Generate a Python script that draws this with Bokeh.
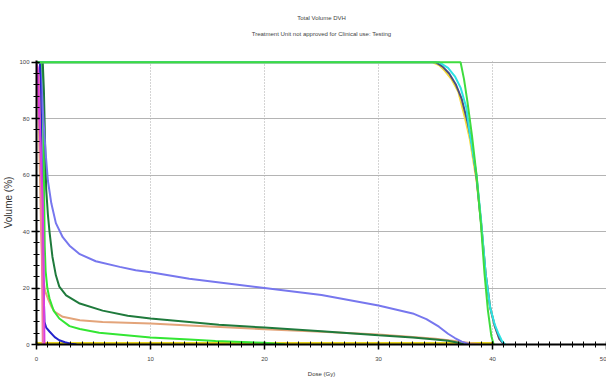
from bokeh.plotting import figure
from bokeh.models import Range1d, Title, FixedTicker
from bokeh.embed import file_html
from bokeh.resources import INLINE

# ---- data ----
title_main = "Total Volume DVH"
title_sub = "Treatment Unit not approved for Clinical use: Testing"
x_label = "Dose (Gy)"
y_label = "Volume (%)"
x_ticks = [0, 10, 20, 30, 40, 50]
x_minor = list(range(0, 51))
y_ticks = [0, 20, 40, 60, 80, 100]
y_minor = list(range(0, 101, 4))

# high-dose structures
cyan_x = [0, 35.3, 36.1, 36.7, 37.2, 37.7, 38.0, 38.6, 39.0, 39.4, 39.8, 40.2, 40.5, 40.8, 41.1]
cyan_y = [100, 100, 98, 95, 91, 84, 75, 60, 44, 25, 13, 7, 4, 1.5, 0]
yellow_x = [0, 34.7, 35.3, 35.8, 36.4, 37.0, 37.6, 38.0, 38.6, 39.0, 39.4, 39.8, 40.2, 40.6, 41.0]
yellow_y = [100, 100, 99, 97, 94, 89.5, 80, 73, 58, 43, 25, 13, 6.5, 2, 0]
slate_x = [0, 35.0, 35.6, 36.2, 36.8, 37.3, 37.8, 38.2, 38.6, 39.0, 39.4, 39.8, 40.2, 40.6, 41.0]
slate_y = [100, 100, 98.5, 96, 92, 87, 79, 71, 59, 43, 25, 13, 6.5, 2, 0]
green_hi_x = [0, 37.2, 37.5, 37.8, 38.2, 38.6, 39.0, 39.3, 39.6, 39.9, 40.1]
green_hi_y = [100, 100, 94, 86, 74, 60, 42, 25, 12, 3, 0]

# low-dose structures
violet_x = [0, 0.3, 0.45, 0.6, 0.8, 1.0, 1.3, 1.7, 2.3, 2.9, 3.8, 5.2, 7.3, 8.7, 10, 13.4,
            20, 25, 30, 33, 34.2, 35.3, 36.1, 36.7, 37.3, 38.0]
violet_y = [100, 100, 92, 80, 68, 58, 50, 43, 38, 35, 32, 29.5, 27.5, 26.3, 25.6, 23.3,
            20, 17.5, 13.8, 11, 9, 6.3, 3.8, 2.3, 1, 0]
dkgreen_x = [0, 0.55, 0.65, 0.75, 0.85, 1.0, 1.14, 1.4, 1.7, 2.0, 2.6, 3.8, 5.8, 8, 10, 13.4,
             16, 20, 25, 30, 33, 35, 36.1, 37, 37.5]
dkgreen_y = [100, 100, 90, 72, 55, 46, 40, 31, 24.5, 20.5, 17.4, 14.5, 12, 10.2, 9.2, 8,
             7, 6, 4.7, 3.3, 2.5, 1.8, 1.3, 0.6, 0]
orange_x = [0, 0.1, 0.2, 0.3, 0.4, 0.55, 0.75, 1.0, 1.3, 1.6, 2.3, 3.8, 5.8, 10, 13.4, 20,
            25, 30, 33, 35, 36.5, 38, 39]
orange_y = [100, 95, 80, 60, 40, 24.5, 19, 16.3, 13.5, 11.6, 9.8, 8.6, 8, 7.4, 6.7, 5.4,
            4.5, 3.5, 2.7, 2, 1.3, 0.5, 0]
ltgreen_x = [0, 0.45, 0.55, 0.62, 0.68, 0.72, 0.8, 0.95, 1.14, 1.5, 2.0, 2.9, 3.8, 5.5, 10,
             13.4, 15.7, 20, 21.8]
ltgreen_y = [100, 100, 90, 70, 50, 35, 26, 20, 16.3, 12, 9.2, 6.5, 5.5, 4.2, 2.5, 1.8,
             1.2, 0.6, 0]
blue_x = [0, 0.3, 0.4, 0.5, 0.6, 0.7, 0.85, 1.14, 1.6, 2.0, 2.5, 3.0, 3.5]
blue_y = [100, 100, 80, 50, 23, 8, 6, 4.6, 2.6, 1.5, 0.8, 0.3, 0]
magenta_x = [0, 0.1, 0.26, 0.45, 0.55, 0.62, 0.67, 0.7]
magenta_y = [100, 98, 79, 60, 50, 30, 10, 0]
pink_x = [0, 0.2, 0.35, 0.45, 0.5, 0.55]
pink_y = [100, 95, 70, 40, 20, 0]
base_x = [0, 40]
base_y = [0.5, 0.5]

p = figure(frame_width=570, frame_height=284, output_backend="svg", toolbar_location=None,
           x_range=Range1d(0, 50), y_range=Range1d(0, 100.6),
           min_border_left=29, min_border_right=0, min_border_top=60, min_border_bottom=30,
           background_fill_color="white", border_fill_color="white")
p.outline_line_color = None

# grids
p.xgrid.grid_line_color = "#a8a8a8"
p.xgrid.grid_line_dash = "1 2"
p.xgrid.grid_line_width = 1
p.ygrid.grid_line_color = "#b4b4b4"
p.ygrid.grid_line_width = 1

# axes
for ax in (p.xaxis[0], p.yaxis[0]):
    ax.axis_line_color = "black"
    ax.axis_line_width = 2
    ax.major_tick_line_color = "black"
    ax.minor_tick_line_color = "black"
    ax.major_tick_line_width = 1.5
    ax.minor_tick_line_width = 1
    ax.major_tick_in = 3
    ax.major_tick_out = 5
    ax.minor_tick_in = 3
    ax.minor_tick_out = 3
    ax.major_label_text_font = "Liberation Sans"
    ax.major_label_text_font_size = "6px"
    ax.major_label_text_color = "#444444"
    ax.major_label_standoff = 2
    ax.axis_label_text_font = "Liberation Sans"
    ax.axis_label_text_font_style = "normal"
    ax.axis_label_text_color = "#333333"

p.xaxis.ticker = FixedTicker(ticks=x_ticks, minor_ticks=x_minor)
p.yaxis.ticker = FixedTicker(ticks=y_ticks, minor_ticks=y_minor)
p.xgrid.ticker = FixedTicker(ticks=x_ticks)
p.ygrid.ticker = FixedTicker(ticks=y_ticks)
p.xaxis.axis_label = x_label
p.xaxis.axis_label_text_font_size = "6px"
p.xaxis.major_label_standoff = 7
p.xaxis.axis_label_standoff = 7
p.yaxis.axis_label = y_label
p.yaxis.axis_label_text_font_size = "10px"
p.yaxis.axis_label_standoff = 2

# titles (a blank spacer first keeps the two lines up at the top)
p.add_layout(Title(text=" ", align="center", text_font_size="6px", standoff=9), "above")
p.add_layout(Title(text=title_sub, align="center", text_font="Liberation Sans",
                   text_font_size="6px", text_font_style="normal",
                   text_color="#444444", standoff=14), "above")
p.add_layout(Title(text=title_main, align="center", text_font="Liberation Sans",
                   text_font_size="6px", text_font_style="normal",
                   text_color="#444444", standoff=2), "above")

lw = 2
p.line(base_x, base_y, line_color="#e6d21e", line_width=lw)
p.line(orange_x, orange_y, line_color="#e3a47a", line_width=lw)
p.line(ltgreen_x, ltgreen_y, line_color="#33e633", line_width=lw)
p.line(dkgreen_x, dkgreen_y, line_color="#1f7a3c", line_width=lw)
p.line(violet_x, violet_y, line_color="#7777ee", line_width=lw)
p.line(blue_x, blue_y, line_color="#2424cc", line_width=lw)
p.line(pink_x, pink_y, line_color="#f07aa0", line_width=lw)
p.line(magenta_x, magenta_y, line_color="#dd3ddd", line_width=lw)
p.line(yellow_x, yellow_y, line_color="#f5dc3c", line_width=lw)
p.line(slate_x, slate_y, line_color="#4c4c80", line_width=lw)
p.line(cyan_x, cyan_y, line_color="#2ee3e3", line_width=lw)
p.line(green_hi_x, green_hi_y, line_color="#3fdc3f", line_width=lw)

open("out.html", "w").write(file_html(p, INLINE))
